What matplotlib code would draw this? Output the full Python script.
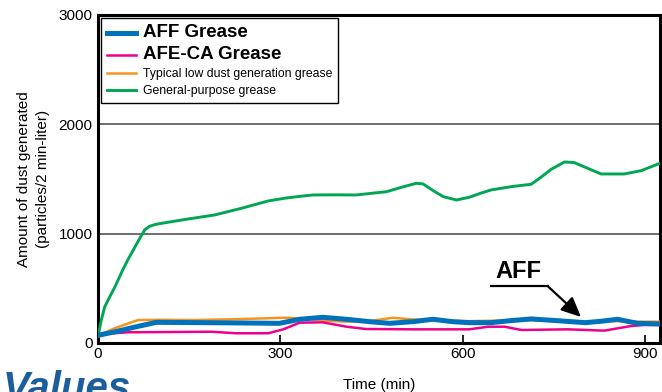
import matplotlib
matplotlib.use("Agg")
import matplotlib.pyplot as plt

# Dust generation over time
aff_x = [0, 30, 60, 96, 200, 299, 332, 370, 409, 447, 480, 518, 551, 584, 611,
         647, 680, 713, 757, 802, 830, 855, 888, 925]
aff_y = [70, 105, 145, 189, 185, 180, 217, 235, 217, 195, 180, 195, 217, 195, 186,
         186, 205, 220, 204, 186, 200, 217, 180, 174]

afe_x = [0, 50, 187, 227, 280, 305, 332, 370, 409, 441, 518, 611, 642, 669, 697,
         773, 833, 877, 899, 925]
afe_y = [80, 98, 103, 89, 89, 125, 186, 189, 149, 128, 125, 125, 149, 149, 119,
         125, 113, 155, 165, 165]

low_x = [0, 30, 66, 100, 160, 242, 307, 340, 370, 409, 447, 485, 518, 560, 611,
         660, 713, 760, 802, 855, 888, 925]
low_y = [70, 140, 210, 212, 210, 220, 231, 225, 205, 195, 200, 231, 215, 205, 200,
         205, 210, 200, 195, 200, 195, 195]

gen_x = [0, 5, 11, 20, 28, 40, 50, 60, 70, 77, 85, 95, 105, 148, 192, 236, 280, 307,
         330, 354, 390, 425, 475, 500, 524, 535, 550, 568, 590, 611, 630, 647, 680,
         713, 730, 746, 768, 784, 805, 828, 866, 894, 925]
gen_y = [60, 200, 330, 430, 515, 660, 770, 870, 970, 1035, 1068, 1085, 1095, 1134,
         1171, 1232, 1299, 1324, 1340, 1354, 1355, 1354, 1384, 1425, 1461, 1455, 1400,
         1339, 1308, 1333, 1370, 1400, 1430, 1452, 1520, 1589, 1656, 1650, 1600, 1546,
         1546, 1576, 1644]

labels = ['AFF Grease', 'AFE-CA Grease',
          'Typical low dust generation grease', 'General-purpose grease']
colors = ['#0072bc', '#ec008c', '#f7941d', '#00a651']

x_ticks = [0, 300, 600, 900]
y_ticks = [0, 1000, 2000, 3000]
grid_y = [1000, 2000]

# annotation "AFF"
ann_text = (692, 545)
ann_elbow = [(647, 521), (740, 521)]
ann_tip = (795, 238)

plt.rcParams['font.family'] = ['Liberation Sans', 'DejaVu Sans']

fig = plt.figure(figsize=(6.62, 3.92), dpi=100)
ax = fig.add_axes([98 / 662, 1 - 343 / 392, 562 / 662, 328 / 392])

for gy in grid_y:
    ax.axhline(gy, color='#555555', linewidth=1.2, zorder=1)

l_aff, = ax.plot(aff_x, aff_y, color=colors[0], linewidth=3.6, zorder=5, label=labels[0])
l_afe, = ax.plot(afe_x, afe_y, color=colors[1], linewidth=1.8, zorder=4, label=labels[1])
l_low, = ax.plot(low_x, low_y, color=colors[2], linewidth=1.8, zorder=3, label=labels[2])
l_gen, = ax.plot(gen_x, gen_y, color=colors[3], linewidth=2.1, zorder=3, label=labels[3])

ax.set_xlim(0, 925)
ax.set_ylim(0, 3000)
ax.set_xticks(x_ticks)
ax.set_yticks(y_ticks)
ax.tick_params(axis='x', direction='in', length=6, width=1.2, labelsize=11, pad=3)
ax.tick_params(axis='y', length=0, labelsize=11, pad=4)
for s in ax.spines.values():
    s.set_linewidth(2.2)
    s.set_color('black')

ax.set_xlabel('Time (min)', fontsize=11, labelpad=12)
ax.set_ylabel('Amount of dust generated\n(particles/2 min-liter)', fontsize=11,
              labelpad=6, linespacing=1.45)

# AFF callout
ax.plot([p[0] for p in ann_elbow], [p[1] for p in ann_elbow], color='black',
        linewidth=1.6, zorder=6)
ax.annotate('', xy=ann_tip, xytext=ann_elbow[1],
            arrowprops=dict(arrowstyle='-|>,head_length=1.2,head_width=0.55',
                            color='black', lw=1.6, shrinkA=0, shrinkB=0), zorder=6)
ax.text(ann_text[0], ann_text[1], 'AFF', fontsize=17, fontweight='bold',
        ha='center', va='bottom', zorder=6)

leg = ax.legend(handles=[l_aff, l_afe, l_low, l_gen], loc='upper left',
                bbox_to_anchor=(0.006, 0.99), frameon=True, fancybox=False,
                edgecolor='black', framealpha=1, fontsize=8.8, handlelength=2.3,
                handletextpad=0.6, labelspacing=0.4, borderpad=0.5,
                borderaxespad=0)
leg.get_frame().set_linewidth(1.0)
leg.set_zorder(10)
for i, t in enumerate(leg.get_texts()):
    if i < 2:
        t.set_fontsize(13.5)
        t.set_fontweight('bold')

fig.text(0.004, -0.02, 'Values', fontsize=29, fontweight='bold', fontstyle='italic',
         color='#1b5e9b', ha='left', va='baseline')

fig.savefig('out.png', dpi=100)
